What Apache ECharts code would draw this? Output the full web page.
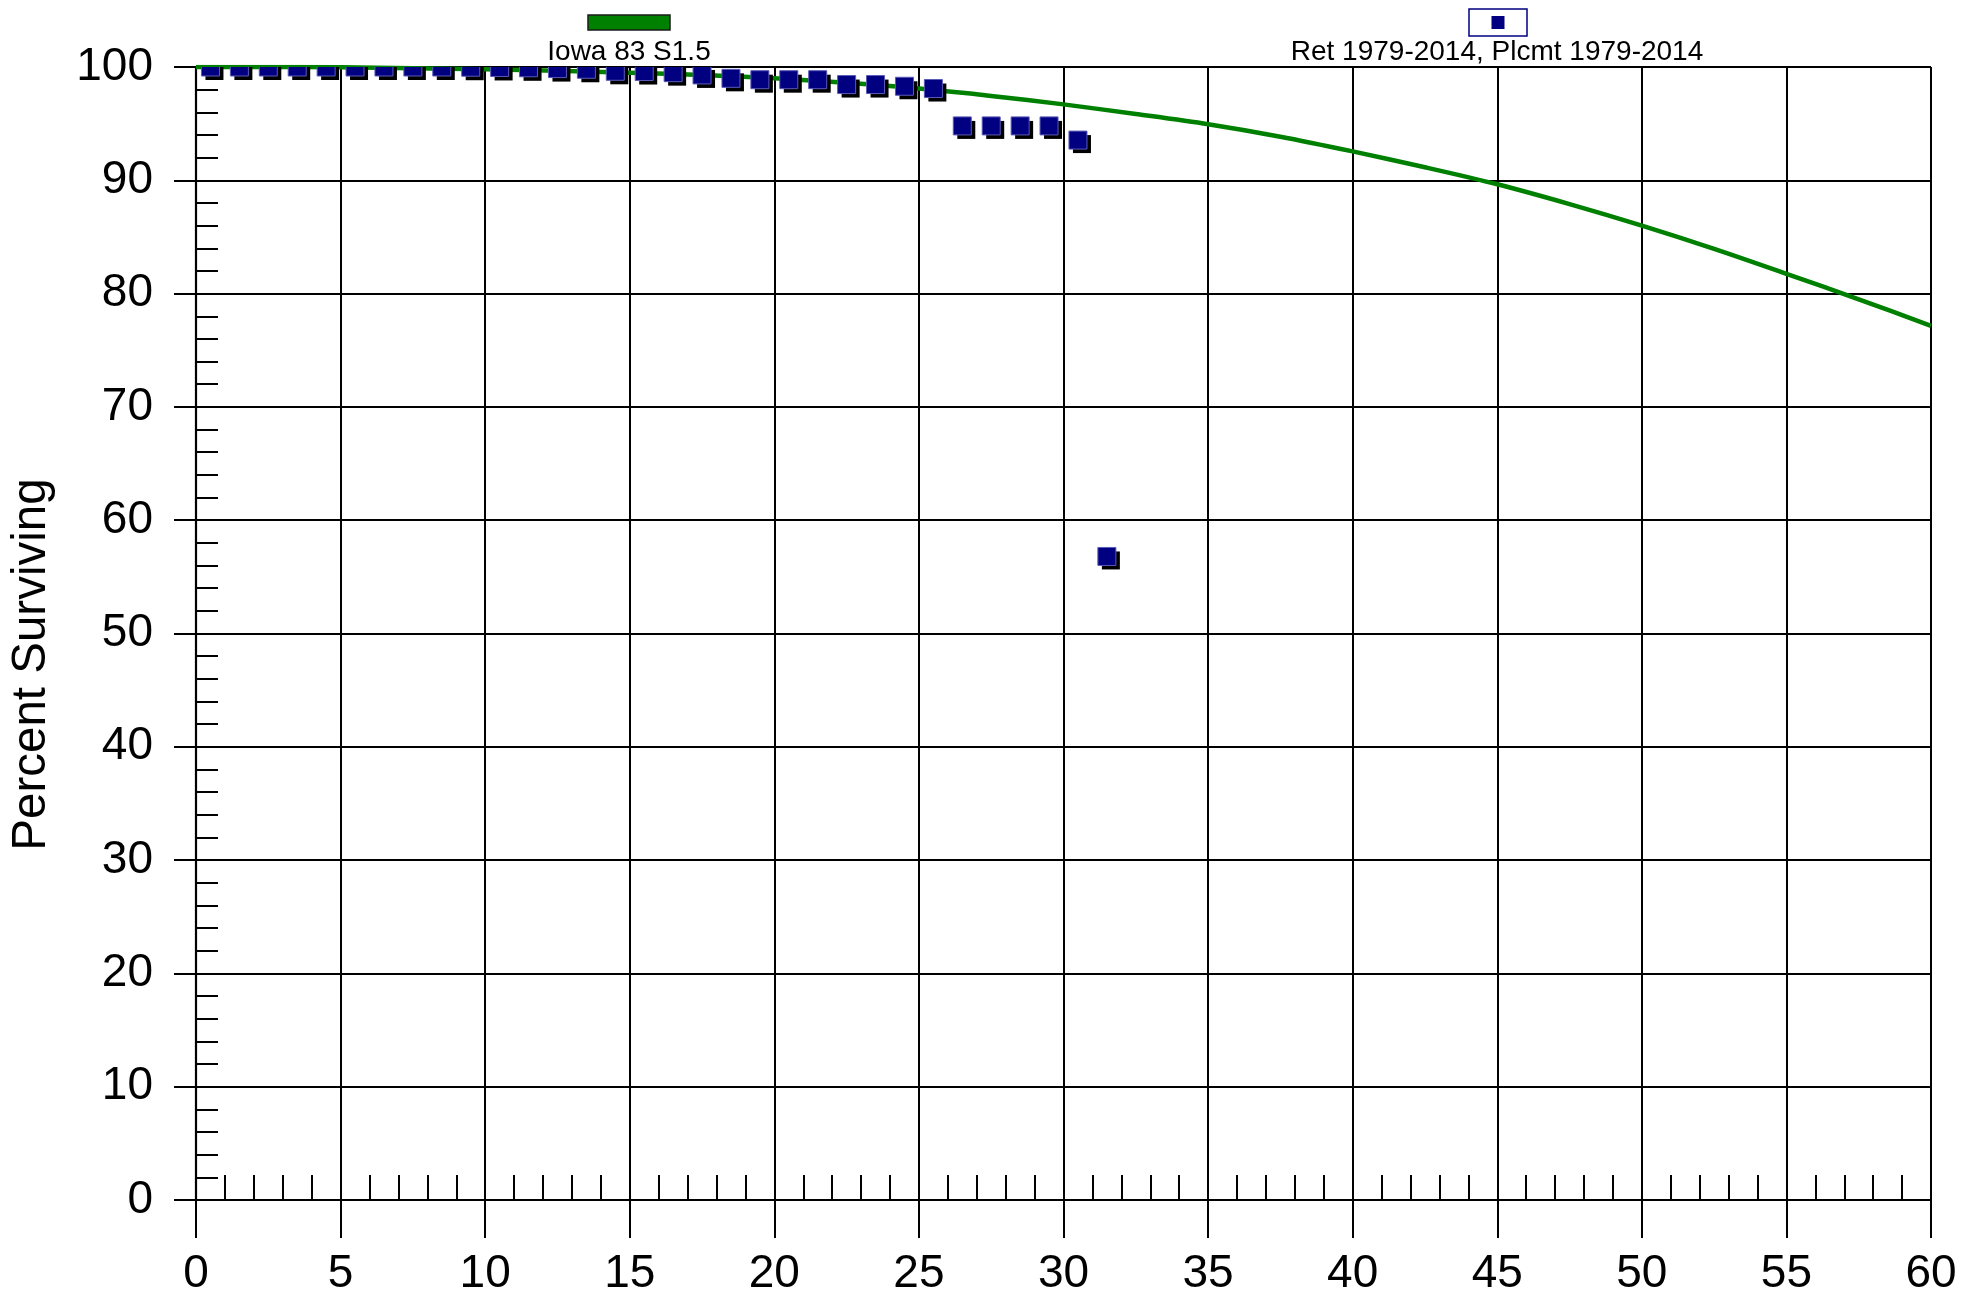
<!DOCTYPE html>
<html>
<head>
<meta charset="utf-8">
<script src="https://cdn.jsdelivr.net/npm/echarts@6/dist/echarts.min.js"></script>
<style>
  html, body { margin: 0; padding: 0; background: #ffffff; }
  #chart { width: 1961px; height: 1292px; }
</style>
</head>
<body>
<div id="chart"></div>
<script>
// Observed survivor points (midpoint of each age interval, years) and percent surviving
const obsAges = [0.5, 1.5, 2.5, 3.5, 4.5, 5.5, 6.5, 7.5, 8.5, 9.5, 10.5, 11.5, 12.5, 13.5, 14.5, 15.5,
                 16.5, 17.5, 18.5, 19.5, 20.5, 21.5, 22.5, 23.5, 24.5, 25.5, 26.5, 27.5, 28.5, 29.5, 30.5, 31.5];
const obsSurv = [100, 100, 100, 100, 100, 100, 100, 100, 100, 99.98, 99.96, 99.93, 99.86, 99.8, 99.62, 99.6,
                 99.5, 99.3, 99.0, 98.88, 98.88, 98.88, 98.45, 98.45, 98.3, 98.1, 94.8, 94.8, 94.8, 94.8, 93.55, 56.8];

// Iowa 83 S1.5 fitted survivor curve
const curveAges = [0, 2.5, 5, 7.5, 10, 12.5, 15, 17.5, 20, 22.5, 25, 27.5, 30, 32.5, 35, 37.5,
                   40, 42.5, 45, 47.5, 50, 52.5, 55, 57.5, 60];
const curveSurv = [100, 100, 99.97, 99.9, 99.8, 99.67, 99.5, 99.3, 99.0, 98.6, 98.1, 97.45, 96.7, 95.85, 94.95, 93.85,
                   92.55, 91.15, 89.65, 87.9, 86.0, 83.95, 81.75, 79.5, 77.15];

// Axis tick values
const xTicks = [0, 5, 10, 15, 20, 25, 30, 35, 40, 45, 50, 55, 60];
const yTicks = [0, 10, 20, 30, 40, 50, 60, 70, 80, 90, 100];

const curveName = 'Iowa 83 S1.5';
const obsName = 'Ret 1979-2014, Plcmt 1979-2014';

const FONT = "'Liberation Sans', Arial, Helvetica, sans-serif";
const NAVY = '#000080';
const GREEN = '#008000';

const curveData = curveAges.map((a, i) => [a, curveSurv[i]]);
const obsData = obsAges.map((a, i) => [a, obsSurv[i]]);

const chart = echarts.init(document.getElementById('chart'), null, { renderer: 'canvas' });

const axisCommon = {
  type: 'value',
  axisLine: { show: true, onZero: false, lineStyle: { color: '#000', width: 2.2 } },
  axisTick: { show: true, inside: false, lineStyle: { color: '#000', width: 2 } },
  minorTick: { show: true, splitNumber: 5, lineStyle: { color: '#000', width: 2 } },
  splitLine: { show: true, lineStyle: { color: '#000', width: 2 } },
  minorSplitLine: { show: false },
  axisLabel: { color: '#000', fontFamily: FONT, fontSize: 46 }
};

chart.setOption({
  backgroundColor: '#ffffff',
  animation: false,
  grid: { left: 196, right: 30, top: 67, bottom: 92, containLabel: false, outerBoundsMode: 'none' },
  xAxis: Object.assign({}, axisCommon, {
    min: xTicks[0], max: xTicks[xTicks.length - 1], interval: 5,
    axisTick: Object.assign({}, axisCommon.axisTick, { length: 38 }),
    minorTick: Object.assign({}, axisCommon.minorTick, { length: -25 }),
    axisLabel: Object.assign({}, axisCommon.axisLabel, { margin: 51, showMinLabel: true, showMaxLabel: true })
  }),
  yAxis: Object.assign({}, axisCommon, {
    min: yTicks[0], max: yTicks[yTicks.length - 1], interval: 10,
    name: 'Percent Surviving',
    nameLocation: 'middle',
    nameGap: 140,
    nameRotate: 90,
    nameTextStyle: { color: '#000', fontFamily: FONT, fontSize: 47.5, padding: [0, 62, 0, 0] },
    axisTick: Object.assign({}, axisCommon.axisTick, { length: 22 }),
    minorTick: Object.assign({}, axisCommon.minorTick, { length: -22 }),
    axisLabel: Object.assign({}, axisCommon.axisLabel, { margin: 43, showMinLabel: true, showMaxLabel: true })
  }),
  series: [
    {
      name: curveName,
      type: 'line',
      data: curveData,
      smooth: 0.3,
      showSymbol: false,
      clip: true,
      lineStyle: { color: GREEN, width: 4.5 },
      z: 2
    },
    {
      name: obsName,
      type: 'custom',
      data: obsData,
      clip: true,
      z: 3,
      renderItem: function (params, api) {
        const p = api.coord([api.value(0), api.value(1)]);
        const s = 18;
        return {
          type: 'group',
          children: [
            { type: 'rect', shape: { x: p[0] - s / 2 + 4, y: p[1] - s / 2 + 4, width: s, height: s },
              style: { fill: '#000000' } },
            { type: 'rect', shape: { x: p[0] - s / 2, y: p[1] - s / 2, width: s, height: s },
              style: { fill: NAVY, stroke: '#5a5ab8', lineWidth: 1 } }
          ]
        };
      }
    }
  ],
  graphic: [
    // key for the fitted curve
    { type: 'rect', shape: { x: 588, y: 15, width: 82, height: 15 },
      style: { fill: GREEN, stroke: '#1a1a1a', lineWidth: 1.5 } },
    { type: 'text', x: 629, y: 52,
      style: { text: curveName, fill: '#000', font: '28px ' + FONT, align: 'center', verticalAlign: 'middle' } },
    // key for the observed points
    { type: 'rect', shape: { x: 1469, y: 9, width: 58, height: 27 },
      style: { fill: '#ffffff', stroke: NAVY, lineWidth: 1.5 } },
    { type: 'rect', shape: { x: 1491.5, y: 16, width: 13, height: 13 },
      style: { fill: NAVY } },
    { type: 'text', x: 1497, y: 52,
      style: { text: obsName, fill: '#000', font: '28px ' + FONT, align: 'center', verticalAlign: 'middle' } }
  ]
});
</script>
</body>
</html>
